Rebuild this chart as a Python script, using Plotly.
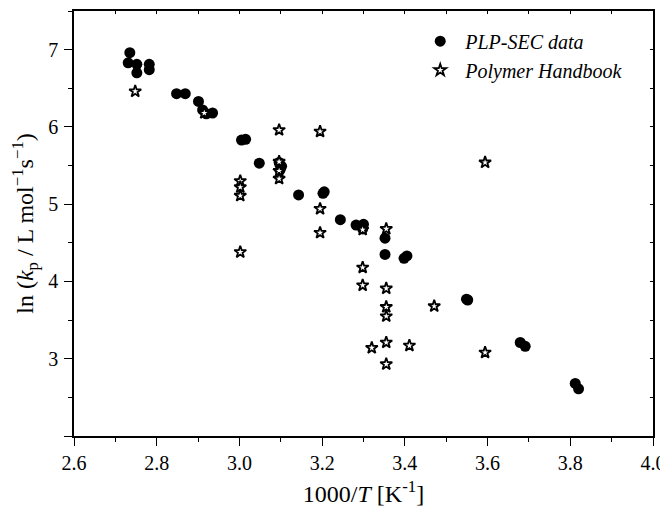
import plotly.graph_objects as go

# PLP-SEC data (filled circles)
plp_x = [2.735, 2.731, 2.752, 2.752, 2.782, 2.782, 2.848, 2.869, 2.901, 2.911, 2.920, 2.935,
         3.005, 3.015, 3.048, 3.096, 3.102, 3.098, 3.143, 3.202, 3.205, 3.244, 3.282, 3.300,
         3.298, 3.352, 3.352, 3.398, 3.405, 3.549, 3.552, 3.679, 3.691, 3.812, 3.820]
plp_y = [6.96, 6.83, 6.81, 6.70, 6.81, 6.74, 6.43, 6.43, 6.33, 6.22, 6.17, 6.18,
         5.83, 5.84, 5.53, 5.54, 5.49, 5.44, 5.12, 5.14, 5.16, 4.80, 4.73, 4.74,
         4.68, 4.56, 4.35, 4.30, 4.33, 3.77, 3.76, 3.21, 3.16, 2.68, 2.61]

# Polymer Handbook data (open stars)
hb_x = [2.748, 2.915, 3.002, 3.002, 3.002, 3.002, 3.096, 3.096, 3.096, 3.096,
        3.195, 3.195, 3.195, 3.298, 3.298, 3.298, 3.320, 3.355, 3.355, 3.355,
        3.355, 3.355, 3.355, 3.411, 3.471, 3.594, 3.594]
hb_y = [6.46, 6.18, 5.30, 5.22, 5.11, 4.38, 5.96, 5.55, 5.43, 5.33,
        5.94, 4.94, 4.63, 4.67, 4.18, 3.95, 3.14, 4.68, 3.91, 3.67,
        3.55, 3.21, 2.93, 3.17, 3.68, 3.08, 5.54]

x_ticks = [2.6, 2.8, 3.0, 3.2, 3.4, 3.6, 3.8, 4.0]
y_ticks = [2, 3, 4, 5, 6, 7]
y_ticktext = ["", "3", "4", "5", "6", "7"]

FONT = "Liberation Serif, Times New Roman, serif"
NB = "\u00a0"

fig = go.Figure()
fig.add_trace(go.Scatter(
    x=plp_x, y=plp_y, mode="markers", name=NB + "<i>PLP-SEC data</i>",
    marker=dict(symbol="circle", size=11, color="black", line=dict(width=0)),
))
fig.add_trace(go.Scatter(
    x=hb_x, y=hb_y, mode="markers", name=NB + "<i>Polymer Handbook</i>",
    marker=dict(symbol="star", size=9, color="white", line=dict(width=1.8, color="black")),
))
# empty trace to create overlay axes for top/right inward ticks
fig.add_trace(go.Scatter(x=[], y=[], xaxis="x2", yaxis="y2", showlegend=False, hoverinfo="skip"))

fig.update_layout(
    width=668, height=512,
    margin=dict(l=66, r=23, t=3, b=84, autoexpand=False),
    paper_bgcolor="white", plot_bgcolor="white",
    font=dict(family=FONT, size=20, color="black"),
    showlegend=True,
    legend=dict(x=0.598, y=0.975, xanchor="left", yanchor="top",
                bgcolor="rgba(0,0,0,0)", borderwidth=0,
                font=dict(family=FONT, size=20, color="black"),
                itemwidth=30, tracegroupgap=0),
    xaxis=dict(
        range=[2.6, 4.0], tickvals=x_ticks, ticktext=[f"{v:.1f}" for v in x_ticks],
        ticks="outside", ticklen=8, tickwidth=1.2, tickcolor="black",
        minor=dict(dtick=0.1, tick0=2.6, ticks="outside", ticklen=4, tickwidth=1.2, tickcolor="black"),
        showline=True, linecolor="black", linewidth=1.6, mirror=True,
        showgrid=False, zeroline=False, automargin=False,
        tickfont=dict(family=FONT, size=20),
        title=dict(text="1000/<i>T</i> [K<sup>-1</sup>]", standoff=12,
                   font=dict(family=FONT, size=24)),
    ),
    yaxis=dict(
        range=[2, 7.5], tickvals=y_ticks, ticktext=y_ticktext,
        ticks="outside", ticklen=8, tickwidth=1.2, tickcolor="black",
        minor=dict(dtick=0.5, tick0=2, ticks="outside", ticklen=4, tickwidth=1.2, tickcolor="black"),
        showline=True, linecolor="black", linewidth=1.6, mirror=True,
        showgrid=False, zeroline=False, automargin=False,
        tickfont=dict(family=FONT, size=20), ticklabelstandoff=2,
        title=dict(text="ln (<i>k</i><sub>p</sub> / L mol<sup>−1</sup>s<sup>−1</sup>)", standoff=8,
                   font=dict(family=FONT, size=24)),
    ),
    xaxis2=dict(
        range=[2.6, 4.0], overlaying="x", side="top", dtick=0.1, tick0=2.6,
        ticks="inside", ticklen=3, tickwidth=1.2, tickcolor="black", automargin=False,
        showticklabels=False, showline=False, showgrid=False, zeroline=False,
    ),
    yaxis2=dict(
        range=[2, 7.5], overlaying="y", side="right", dtick=0.5, tick0=2,
        ticks="inside", ticklen=3, tickwidth=1.2, tickcolor="black", automargin=False,
        showticklabels=False, showline=False, showgrid=False, zeroline=False,
    ),
)

fig.write_html("out.html")
